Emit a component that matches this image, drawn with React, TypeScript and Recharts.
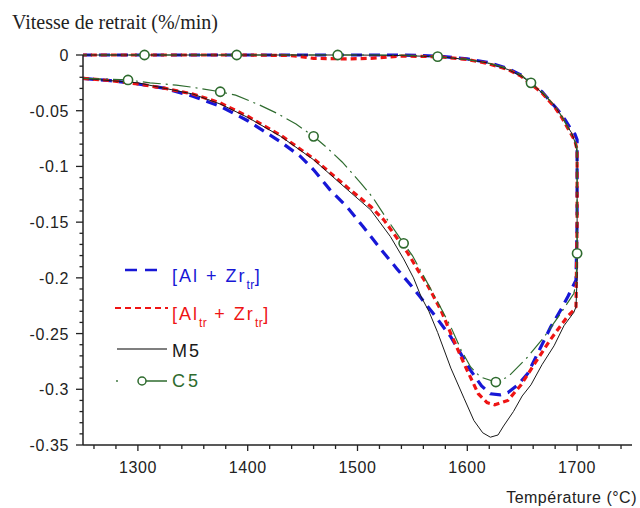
import { LineChart, Line, XAxis, YAxis } from 'recharts'

// [temperature °C, shrinkage rate %/min], in the order the curve is traced
// (heating branch, hold at 1700, cooling branch back along the top)
const alZrTr: [number, number][] = [
  [1250, -0.021], [1275, -0.023], [1300, -0.026], [1325, -0.03], [1350, -0.037],
  [1375, -0.046], [1400, -0.059], [1430, -0.078], [1448, -0.091], [1460, -0.103],
  [1475, -0.121], [1491, -0.137], [1505, -0.154], [1521, -0.174], [1536, -0.192],
  [1548, -0.206], [1557, -0.217], [1569, -0.232], [1585, -0.253], [1603, -0.283],
  [1613, -0.297], [1621, -0.304], [1630, -0.305], [1637, -0.303], [1646, -0.296],
  [1655, -0.286], [1664, -0.268], [1676, -0.244], [1685, -0.229], [1692, -0.216],
  [1696, -0.208], [1699, -0.202],
  [1700, -0.15], [1700, -0.076],
  [1698, -0.071], [1694, -0.066], [1689, -0.058], [1683, -0.05], [1676, -0.042],
  [1668, -0.033], [1658, -0.025], [1649, -0.018], [1637, -0.012], [1618, -0.0065],
  [1600, -0.0035], [1573, -0.001], [1540, 0], [1500, 0], [1400, 0], [1300, 0], [1250, 0],
]

const alTrZrTr: [number, number][] = [
  [1250, -0.021], [1275, -0.023], [1300, -0.026], [1325, -0.03], [1350, -0.035],
  [1375, -0.043], [1400, -0.055], [1430, -0.072], [1460, -0.093], [1491, -0.119],
  [1512, -0.136], [1524, -0.148], [1535, -0.163], [1546, -0.178], [1555, -0.193],
  [1564, -0.207], [1576, -0.229], [1585, -0.25], [1597, -0.277], [1610, -0.304],
  [1618, -0.312], [1625, -0.314], [1637, -0.31], [1649, -0.296], [1660, -0.279],
  [1676, -0.255], [1691, -0.235], [1697, -0.229], [1699, -0.226],
  [1700, -0.15], [1700, -0.085],
  [1698, -0.077], [1694, -0.07], [1690, -0.063], [1686, -0.056], [1679, -0.046],
  [1668, -0.034], [1658, -0.026], [1649, -0.019], [1637, -0.013], [1618, -0.0075],
  [1600, -0.004], [1573, -0.0015], [1540, -0.001], [1512, -0.003], [1490, -0.0035],
  [1460, -0.003], [1440, -0.0005], [1400, 0], [1300, 0], [1250, 0],
]

const m5: [number, number][] = [
  [1250, -0.021], [1275, -0.023], [1300, -0.025], [1325, -0.03], [1350, -0.035],
  [1375, -0.044], [1400, -0.056], [1430, -0.073], [1460, -0.094], [1491, -0.121],
  [1512, -0.139], [1530, -0.163], [1542, -0.183], [1551, -0.2], [1558, -0.217],
  [1565, -0.23], [1573, -0.249], [1585, -0.281], [1597, -0.308], [1606, -0.328],
  [1614, -0.339], [1621, -0.343], [1628, -0.341], [1633, -0.333], [1642, -0.32],
  [1650, -0.306], [1658, -0.296], [1668, -0.278], [1679, -0.261], [1688, -0.243],
  [1697, -0.231], [1699, -0.226],
  [1700, -0.2], [1700, -0.12], [1700, -0.087],
  [1698, -0.078], [1695, -0.07], [1690, -0.062], [1686, -0.055], [1679, -0.045],
  [1668, -0.034], [1658, -0.025], [1649, -0.019], [1637, -0.013], [1618, -0.007],
  [1600, -0.004], [1573, -0.0015], [1540, -0.0005], [1500, 0], [1400, 0], [1300, 0], [1250, 0],
]

const c5: [number, number][] = [
  [1250, -0.021], [1270, -0.0215], [1291, -0.0224], [1311, -0.025], [1335, -0.027],
  [1350, -0.029], [1375, -0.033], [1389, -0.036], [1411, -0.045], [1426, -0.052],
  [1444, -0.062], [1460, -0.073], [1472, -0.083], [1486, -0.096], [1503, -0.115],
  [1514, -0.128], [1528, -0.149], [1542, -0.169], [1550, -0.18], [1560, -0.198],
  [1570, -0.216], [1585, -0.244], [1594, -0.264], [1603, -0.28], [1612, -0.289],
  [1626, -0.2935], [1637, -0.289], [1655, -0.271], [1670, -0.253], [1685, -0.232],
  [1697, -0.214], [1699, -0.205],
  [1700, -0.178], [1700, -0.12], [1700, -0.083],
  [1698, -0.077], [1694, -0.07], [1690, -0.062], [1686, -0.055], [1679, -0.045],
  [1668, -0.033], [1658, -0.025], [1649, -0.018], [1637, -0.012], [1618, -0.007],
  [1600, -0.004], [1573, -0.0015], [1540, 0], [1482, 0], [1390, 0], [1307, 0], [1250, 0],
]

// open circle markers on the C5 curve
const c5Marks: [number, number][] = [
  [1291, -0.0224], [1375, -0.033], [1460, -0.073], [1542, -0.169], [1626, -0.2935],
  [1700, -0.178], [1658, -0.025], [1573, -0.0015], [1482, 0], [1390, 0], [1306, 0],
]

const xTicks = Array.from({ length: 25 }, (_, i) => 1260 + i * 20)
const yTicks = Array.from({ length: 36 }, (_, i) => -i / 100)

const toRows = (pts: [number, number][]) => pts.map(([t, v]) => ({ t, v }))

const BLUE = '#1717d6'
const RED = '#ee1414'
const BLACK = '#1a1a1a'
const GREEN = '#2e6b2e'
const AXIS = '#222'
const SANS = '"Liberation Sans", Arial, sans-serif'

function XTick({ x, y, payload }: any) {
  const v = payload.value
  const major = v % 100 === 0
  return (
    <g>
      <line x1={x} x2={x} y1={y} y2={y + (major ? 6 : 4)} stroke={AXIS} strokeWidth={1.3} />
      {major && (
        <text x={x} y={y + 28} textAnchor="middle" fontSize={16} fontFamily={SANS}
          letterSpacing={0.6} fill={AXIS}>
          {v}
        </text>
      )}
    </g>
  )
}

function YTick({ x, y, payload }: any) {
  const hundredths = Math.round(-payload.value * 100)
  const major = hundredths % 5 === 0
  const label = hundredths === 0 ? '0' : String(-hundredths / 100)
  return (
    <g>
      <line x1={x} x2={x - (major ? 7 : 3.5)} y1={y} y2={y} stroke={AXIS} strokeWidth={1.3} />
      {major && (
        <text x={x - 14} y={y + 6} textAnchor="end" fontSize={16} fontFamily={SANS}
          letterSpacing={0.6} fill={AXIS}>
          {label}
        </text>
      )}
    </g>
  )
}

function MarkDot({ cx, cy, index }: any) {
  return <circle key={index} cx={cx} cy={cy} r={4.6} fill="#fff" stroke={GREEN} strokeWidth={1.6} />
}

type Part = [string, boolean]
const blueLabel: Part[] = [['[Al + Zr', false], ['tr', true], [']', false]]
const redLabel: Part[] = [['[Al', false], ['tr', true], [' + Zr', false], ['tr', true], [']', false]]

function LabelText({ x, y, color, parts }: { x: number; y: number; color: string; parts: Part[] }) {
  let prevSub = false
  return (
    <text x={x} y={y} fill={color} fontSize={18} fontFamily={SANS} letterSpacing={2}>
      {parts.map(([s, sub], i) => {
        const dy = sub && !prevSub ? 7 : !sub && prevSub ? -7 : 0
        prevSub = sub
        return (
          <tspan key={i} dy={dy} fontSize={sub ? 12 : 18} letterSpacing={sub ? 0.5 : 2}>
            {s}
          </tspan>
        )
      })}
    </text>
  )
}

function Overlay() {
  return (
    <svg width={640} height={508} style={{ position: 'absolute', left: 0, top: 0, pointerEvents: 'none' }}>
      <text x={12} y={29} fontSize={20} fontFamily='"Liberation Serif", "Times New Roman", serif' fill="#222">
        Vitesse de retrait (%/min)
      </text>
      <text x={637} y={503} textAnchor="end" fontSize={16} fontFamily={SANS} letterSpacing={0.5} fill="#222">
        Température (°C)
      </text>

      <line x1={125} x2={162} y1={270} y2={270} stroke={BLUE} strokeWidth={2.5} strokeDasharray="12 8" />
      <LabelText x={172} y={282} color={BLUE} parts={blueLabel} />

      <line x1={115} x2={168} y1={308} y2={308} stroke={RED} strokeWidth={2} strokeDasharray="6 4" />
      <LabelText x={172} y={320} color={RED} parts={redLabel} />

      <line x1={117} x2={167} y1={349} y2={349} stroke="#555" strokeWidth={1.5} />
      <text x={172} y={357} fill={BLACK} fontSize={18} fontFamily={SANS} letterSpacing={2}>M5</text>

      <circle cx={117} cy={381} r={0.9} fill={GREEN} />
      <circle cx={142} cy={381} r={4} fill="#fff" stroke={GREEN} strokeWidth={1.5} />
      <line x1={146} x2={167} y1={381} y2={381} stroke={GREEN} strokeWidth={1.5} />
      <text x={172} y={387} fill={GREEN} fontSize={18} fontFamily={SANS} letterSpacing={3}>C5</text>
    </svg>
  )
}

export default function App() {
  return (
    <div style={{ position: 'absolute', left: 0, top: 0, width: 640, height: 508, background: '#fff' }}>
      <LineChart width={640} height={508} margin={{ top: 55, right: 8, bottom: 33, left: 23 }}>
        <XAxis
          dataKey="t"
          type="number"
          domain={[1250, 1750]}
          ticks={xTicks}
          interval={0}
          tick={<XTick />}
          tickSize={0}
          tickMargin={0}
          tickLine={false}
          axisLine={{ stroke: AXIS, strokeWidth: 1.5 }}
          height={30}
        />
        <YAxis
          type="number"
          domain={[-0.35, 0]}
          ticks={yTicks}
          interval={0}
          tick={<YTick />}
          tickSize={0}
          tickMargin={0}
          tickLine={false}
          axisLine={{ stroke: AXIS, strokeWidth: 1.5 }}
          width={60}
        />
        <Line data={toRows(alZrTr)} dataKey="v" type="linear" stroke={BLUE} strokeWidth={3.2}
          strokeDasharray="11 7" dot={false} isAnimationActive={false} />
        <Line data={toRows(alTrZrTr)} dataKey="v" type="linear" stroke={RED} strokeWidth={3.2}
          strokeDasharray="6 4" dot={false} isAnimationActive={false} />
        <Line data={toRows(m5)} dataKey="v" type="linear" stroke={BLACK} strokeWidth={1}
          dot={false} isAnimationActive={false} />
        <Line data={toRows(c5)} dataKey="v" type="linear" stroke={GREEN} strokeWidth={1.2}
          strokeDasharray="18 5 2 5" dot={false} isAnimationActive={false} />
        <Line data={toRows(c5Marks)} dataKey="v" type="linear" stroke="none" strokeWidth={0}
          dot={<MarkDot />} isAnimationActive={false} />
      </LineChart>
      <Overlay />
    </div>
  )
}
